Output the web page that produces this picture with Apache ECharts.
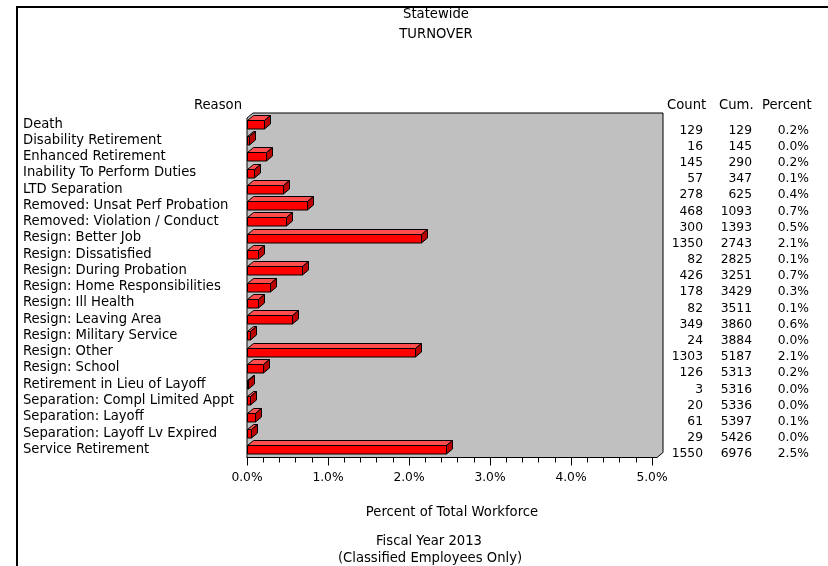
<!DOCTYPE html>
<html>
<head>
<meta charset="utf-8">
<script src="https://cdn.jsdelivr.net/npm/echarts@6/dist/echarts.min.js"></script>
<style>
  html, body { margin: 0; padding: 0; background: #ffffff; }
  #chart { width: 828px; height: 566px; }
</style>
</head>
<body>
<div id="chart"></div>
<script>
// Turnover reasons, in report order
const reasons = [
  'Death',
  'Disability Retirement',
  'Enhanced Retirement',
  'Inability To Perform Duties',
  'LTD Separation',
  'Removed: Unsat Perf Probation',
  'Removed: Violation / Conduct',
  'Resign: Better Job',
  'Resign: Dissatisfied',
  'Resign: During Probation',
  'Resign: Home Responsibilities',
  'Resign: Ill Health',
  'Resign: Leaving Area',
  'Resign: Military Service',
  'Resign: Other',
  'Resign: School',
  'Retirement in Lieu of Layoff',
  'Separation: Compl Limited Appt',
  'Separation: Layoff',
  'Separation: Layoff Lv Expired',
  'Service Retirement'
];

// Separations per reason
const counts = [129, 16, 145, 57, 278, 468, 300, 1350, 82, 426, 178, 82, 349, 24, 1303, 126, 3, 20, 61, 29, 1550];

// Running total of separations
const cumulative = [129, 145, 290, 347, 625, 1093, 1393, 2743, 2825, 3251, 3429, 3511, 3860, 3884, 5187, 5313, 5316, 5336, 5397, 5426, 6976];

// Percent of total workforce per reason (bar length; the Percent column shows it to one decimal)
const percentOfWorkforce = [0.205, 0.025, 0.230, 0.090, 0.441, 0.743, 0.476, 2.143, 0.130, 0.676, 0.283, 0.130, 0.554, 0.038, 2.068, 0.200, 0.005, 0.032, 0.097, 0.046, 2.460];

// Percent axis range
const axisMin = 0;
const axisMax = 5;
const axisStep = 1;

const FONT = 'DejaVu Sans';
const LABEL_SIZE = 13.2;
const NUM_SIZE = 12.3;

// 3D depth of bars and plot box
const DX = 6;
const DY = 5;

function renderBox(params, api) {
  const cs = params.coordSys;
  const L = cs.x;
  const R = cs.x + cs.width + 5;
  const B = cs.y + cs.height;
  const T = cs.y - 3;
  return {
    type: 'polygon',
    shape: { points: [[L, T + DY], [L + DX, T], [R + DX, T], [R + DX, B - DY], [R, B], [L, B]] },
    style: { fill: '#c0c0c0', stroke: '#000000', lineWidth: 1 }
  };
}

function renderBar(params, api) {
  const v = api.value(0);
  const cat = api.value(1);
  const p0 = api.coord([0, cat]);
  const p1 = api.coord([v, cat]);
  const h = 8.5;
  const x0 = Math.round(p0[0]) + 0.5;
  const x1 = Math.max(Math.round(p1[0]) + 0.5, x0 + 1);
  const yT = Math.round(p0[1] - h / 2) + 0.5;
  const yB = yT + h;
  const stroke = { stroke: '#000000', lineWidth: 1 };
  return {
    type: 'group',
    children: [
      {
        type: 'polygon',
        shape: { points: [[x0, yT], [x0 + DX, yT - DY], [x1 + DX, yT - DY], [x1, yT]] },
        style: Object.assign({ fill: '#ff4c4c' }, stroke)
      },
      {
        type: 'polygon',
        shape: { points: [[x1, yT], [x1 + DX, yT - DY], [x1 + DX, yB - DY], [x1, yB]] },
        style: Object.assign({ fill: '#bb0000' }, stroke)
      },
      {
        type: 'rect',
        shape: { x: x0, y: yT, width: x1 - x0, height: yB - yT },
        style: Object.assign({ fill: '#ff0000' }, stroke)
      }
    ]
  };
}

const txt = { fontFamily: FONT, fontSize: LABEL_SIZE, fill: '#000000' };

function tableAxis(values, margin) {
  return {
    type: 'category',
    gridIndex: 1,
    data: reasons,
    inverse: true,
    position: 'right',
    axisLine: { show: false },
    axisTick: { show: false },
    axisLabel: {
      interval: 0,
      align: 'right',
      margin: margin,
      padding: [3, 0, 0, 0],
      color: '#000000',
      fontFamily: FONT,
      fontSize: NUM_SIZE,
      formatter: (val, idx) => values[idx]
    }
  };
}

const chart = echarts.init(document.getElementById('chart'), null, { renderer: 'canvas' });

chart.setOption({
  animation: false,
  backgroundColor: '#ffffff',
  grid: [
    { left: 247, top: 116, width: 405, height: 341.5 },
    { left: 247, top: 122.4, width: 405, height: 339.8 }
  ],
  xAxis: [
    {
      type: 'value',
      gridIndex: 0,
      min: axisMin,
      max: axisMax,
      interval: axisStep,
      axisLine: { show: true, lineStyle: { color: '#000000', width: 1 } },
      axisTick: { show: true, length: 8, lineStyle: { color: '#000000' } },
      minorTick: { show: true, splitNumber: 5, length: 5, lineStyle: { color: '#000000' } },
      splitLine: { show: false },
      axisLabel: {
        margin: 14,
        color: '#000000',
        fontFamily: FONT,
        fontSize: NUM_SIZE,
        formatter: v => v.toFixed(1) + '%'
      }
    },
    { type: 'value', gridIndex: 1, show: false, min: 0, max: 1 }
  ],
  yAxis: [
    {
      type: 'category',
      gridIndex: 0,
      data: reasons,
      inverse: true,
      axisLine: { show: false },
      axisTick: { show: false },
      axisLabel: {
        interval: 0,
        align: 'left',
        margin: 224,
        padding: [4, 0, 0, 0],
        color: '#000000',
        fontFamily: FONT,
        fontSize: LABEL_SIZE
      }
    },
    tableAxis(counts, 51),
    tableAxis(cumulative, 100),
    tableAxis(percentOfWorkforce.map(p => p.toFixed(1) + '%'), 157)
  ],
  series: [
    {
      type: 'custom',
      name: 'box',
      xAxisIndex: 0,
      yAxisIndex: 0,
      z: 1,
      silent: true,
      renderItem: renderBox,
      data: [[0, 0]],
      encode: { x: 0, y: 1 }
    },
    {
      type: 'custom',
      name: 'Percent of Total Workforce',
      xAxisIndex: 0,
      yAxisIndex: 0,
      z: 2,
      renderItem: renderBar,
      data: percentOfWorkforce.map((p, i) => [p, i]),
      encode: { x: 0, y: 1 }
    }
  ],
  graphic: [
    { type: 'line', shape: { x1: 17, y1: 7, x2: 828, y2: 7 }, style: { stroke: '#000000', lineWidth: 2 } },
    { type: 'line', shape: { x1: 17, y1: 6, x2: 17, y2: 566 }, style: { stroke: '#000000', lineWidth: 2 } },
    { type: 'text', x: 436, y: 15, style: Object.assign({ text: 'Statewide', align: 'center', verticalAlign: 'middle' }, txt) },
    { type: 'text', x: 436, y: 35, style: Object.assign({ text: 'TURNOVER', align: 'center', verticalAlign: 'middle' }, txt) },
    { type: 'text', x: 242, y: 106, style: Object.assign({ text: 'Reason', align: 'right', verticalAlign: 'middle' }, txt) },
    { type: 'text', x: 667, y: 106, style: Object.assign({ text: 'Count', align: 'left', verticalAlign: 'middle' }, txt) },
    { type: 'text', x: 719, y: 106, style: Object.assign({ text: 'Cum.', align: 'left', verticalAlign: 'middle' }, txt) },
    { type: 'text', x: 762, y: 106, style: Object.assign({ text: 'Percent', align: 'left', verticalAlign: 'middle' }, txt) },
    { type: 'text', x: 452, y: 513, style: Object.assign({ text: 'Percent of Total Workforce', align: 'center', verticalAlign: 'middle' }, txt) },
    { type: 'text', x: 429, y: 542, style: Object.assign({ text: 'Fiscal Year 2013', align: 'center', verticalAlign: 'middle' }, txt) },
    { type: 'text', x: 430, y: 559, style: Object.assign({ text: '(Classified Employees Only)', align: 'center', verticalAlign: 'middle' }, txt) }
  ]
});
</script>
</body>
</html>
